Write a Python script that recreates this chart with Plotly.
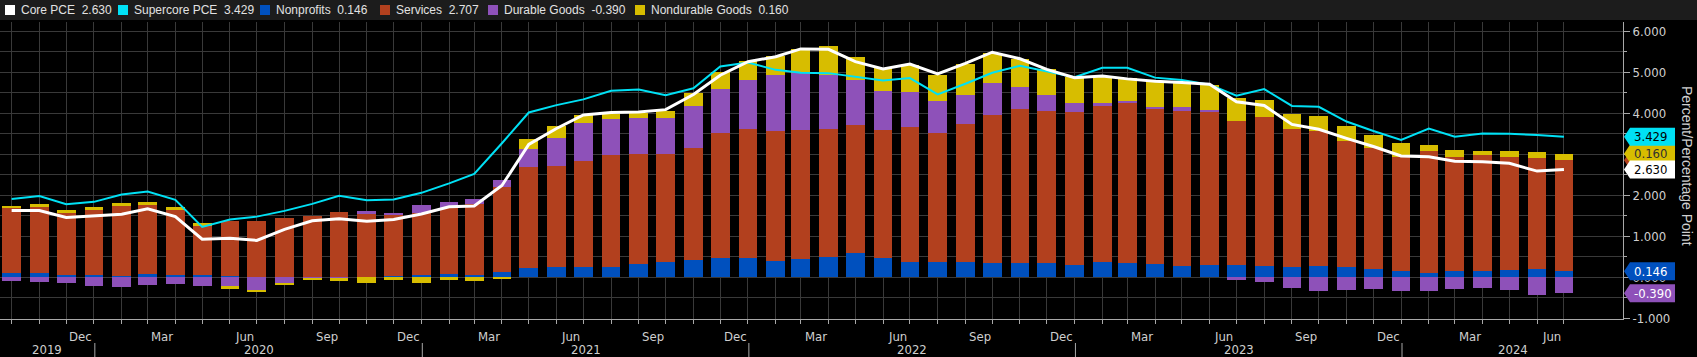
import pandas as pd
import plotly.graph_objects as go

# ---------------- data ----------------
dates = pd.date_range("2019-09-30", periods=58, freq=pd.offsets.MonthEnd())

nonprofits = [0.10, 0.10, 0.05, 0.065, 0.04, 0.09, 0.065, 0.065, 0.04, 0.0,
              0.01, 0.01, 0.01, 0.0, 0.02, 0.065, 0.08, 0.05, 0.13, 0.23,
              0.244, 0.26, 0.26, 0.325, 0.374, 0.423, 0.463, 0.463, 0.40, 0.44,
              0.50, 0.593, 0.463, 0.382, 0.382, 0.382, 0.35, 0.35, 0.35, 0.30,
              0.382, 0.35, 0.333, 0.268, 0.29, 0.30, 0.285, 0.244, 0.285, 0.244,
              0.203, 0.154, 0.106, 0.154, 0.154, 0.187, 0.203, 0.146]
services = [1.61, 1.62, 1.53, 1.58, 1.71, 1.67, 1.58, 1.195, 1.34, 1.38,
            1.437, 1.49, 1.575, 1.545, 1.49, 1.50, 1.60, 1.75, 2.07, 2.46,
            2.47, 2.58, 2.72, 2.69, 2.64, 2.73, 3.05, 3.16, 3.17, 3.145,
            3.12, 3.12, 3.12, 3.285, 3.14, 3.36, 3.61, 3.756, 3.707, 3.74,
            3.80, 3.90, 3.76, 3.79, 3.73, 3.52, 3.62, 3.38, 3.285, 3.08,
            2.96, 2.79, 2.975, 2.78, 2.82, 2.75, 2.71, 2.707]
durable = [-0.09, -0.105, -0.146, -0.21, -0.23, -0.19, -0.16, -0.21, -0.21, -0.31,
           -0.13, -0.025, -0.02, 0.065, 0.057, 0.187, 0.155, 0.114, 0.17, 0.44,
           0.69, 0.927, 0.87, 0.878, 0.878, 1.024, 1.08, 1.19, 1.366, 1.39,
           1.325, 1.10, 0.96, 0.86, 0.78, 0.707, 0.78, 0.545, 0.39, 0.22,
           0.08, 0.05, 0.065, 0.098, 0.065, -0.057, -0.12, -0.25, -0.325, -0.30,
           -0.276, -0.325, -0.325, -0.276, -0.25, -0.30, -0.43, -0.39]
nondurable = [0.04, 0.057, 0.065, 0.065, 0.065, 0.073, 0.065, 0.057, -0.065, -0.04,
              -0.065, -0.04, -0.06, -0.13, -0.057, -0.13, -0.065, -0.08, -0.03, 0.236,
              0.285, 0.195, 0.138, 0.106, 0.17, 0.325, 0.41, 0.47, 0.463, 0.593,
              0.69, 0.553, 0.553, 0.65, 0.634, 0.756, 0.724, 0.675, 0.634, 0.618,
              0.634, 0.553, 0.618, 0.618, 0.60, 0.545, 0.423, 0.366, 0.366, 0.366,
              0.31, 0.333, 0.138, 0.163, 0.106, 0.146, 0.146, 0.160]
core_pce = [1.63, 1.63, 1.46, 1.50, 1.54, 1.67, 1.48, 0.93, 0.95, 0.90,
            1.17, 1.38, 1.43, 1.37, 1.41, 1.545, 1.72, 1.74, 2.24, 3.24,
            3.63, 3.96, 4.02, 4.03, 4.09, 4.46, 4.93, 5.26, 5.38, 5.57,
            5.56, 5.26, 5.08, 5.20, 4.96, 5.22, 5.49, 5.33, 5.07, 4.87,
            4.91, 4.84, 4.78, 4.75, 4.71, 4.28, 4.19, 3.73, 3.61, 3.39,
            3.19, 2.96, 2.94, 2.83, 2.82, 2.78, 2.59, 2.630]
supercore_pce = [1.91, 1.98, 1.78, 1.84, 2.02, 2.09, 1.89, 1.23, 1.41, 1.48,
                 1.62, 1.79, 1.99, 1.88, 1.90, 2.06, 2.29, 2.52, 3.27, 4.02,
                 4.20, 4.34, 4.55, 4.58, 4.44, 4.61, 5.14, 5.24, 5.06, 4.99,
                 4.98, 4.89, 4.80, 4.86, 4.46, 4.72, 4.99, 5.16, 5.02, 4.88,
                 5.11, 5.11, 4.87, 4.81, 4.70, 4.43, 4.59, 4.18, 4.16, 3.80,
                 3.57, 3.35, 3.63, 3.43, 3.51, 3.50, 3.47, 3.429]

y_tick_values = [-1, 0, 1, 2, 3, 4, 5, 6]
month_names = {12: "Dec", 3: "Mar", 6: "Jun", 9: "Sep"}
axis_title = "Percent/Percentage Point"

# ---------------- style ----------------
C_CORE = "#ffffff"
C_SUPER = "#00e1f5"
C_NONPROF = "#0050be"
C_SERV = "#b2401e"
C_DUR = "#8e51b9"
C_NONDUR = "#d7bd00"
GRID = "#393939"
AXIS = "#a8a8a8"
TXT = "#cfcfcf"
NARROW = "Liberation Sans Narrow, Arial Narrow, DejaVu Sans Condensed, Roboto, sans-serif"
SANS = "Liberation Sans, Arial, sans-serif"

W, H = 1697, 357
L, R, T, B = 0, 74, 22, 38
PW, PH = W - L - R, H - T - B


def px(p):
    return (p - L) / PW


def py(p):
    return (H - B - p) / PH


x_range = [pd.Timestamp("2019-09-17"), pd.Timestamp("2024-09-04")]
y_range = [-1.017, 6.227]
units_per_px = (y_range[1] - y_range[0]) / PH

fig = go.Figure()
bar_width_ms = 20.9 * 86400000
for name, vals, color in [("Nonprofits", nonprofits, C_NONPROF),
                          ("Services", services, C_SERV),
                          ("Durable Goods", durable, C_DUR),
                          ("Nondurable Goods", nondurable, C_NONDUR)]:
    fig.add_trace(go.Bar(x=dates, y=vals, name=name, width=bar_width_ms,
                         marker=dict(color=color, line=dict(width=0))))
fig.add_trace(go.Scatter(x=dates, y=supercore_pce, mode="lines", name="Supercore PCE",
                         line=dict(color=C_SUPER, width=2)))
fig.add_trace(go.Scatter(x=dates, y=core_pce, mode="lines", name="Core PCE",
                         line=dict(color=C_CORE, width=3)))

shapes = []
annotations = []

# legend strip
shapes.append(dict(type="rect", xref="paper", yref="paper", x0=px(0), x1=px(W),
                   y0=py(20), y1=py(0), fillcolor="#1c1c1c", line=dict(width=0), layer="above"))
legend_items = [("Core PCE", core_pce[-1], C_CORE, 5),
                ("Supercore PCE", supercore_pce[-1], C_SUPER, 118),
                ("Nonprofits", nonprofits[-1], C_NONPROF, 260),
                ("Services", services[-1], C_SERV, 380),
                ("Durable Goods", durable[-1], C_DUR, 488),
                ("Nondurable Goods", nondurable[-1], C_NONDUR, 635)]
for name, val, color, x0 in legend_items:
    shapes.append(dict(type="rect", xref="paper", yref="paper", x0=px(x0), x1=px(x0 + 10),
                       y0=py(15), y1=py(5), fillcolor=color, line=dict(width=0), layer="above"))
    annotations.append(dict(xref="paper", yref="paper", x=px(x0 + 14), y=py(10),
                            xanchor="left", yanchor="middle", showarrow=False,
                            text=f"{name}  {val:.3f}", font=dict(family=SANS, size=12, color="#e2e2e2")))

# month labels and year labels
m = pd.Timestamp("2019-09-01")
while m < x_range[1]:
    nxt = m + pd.offsets.MonthBegin(1)
    center = m + (nxt - m) / 2
    if m.month in month_names and x_range[0] < center < x_range[1]:
        annotations.append(dict(xref="x", yref="paper", x=center, y=py(336), showarrow=False,
                                xanchor="center", yanchor="middle", text=month_names[m.month],
                                font=dict(family=NARROW, size=13, color=TXT)))
    m = nxt
for yr in range(2019, 2025):
    s = max(pd.Timestamp(f"{yr}-01-01"), x_range[0])
    e = min(pd.Timestamp(f"{yr + 1}-01-01"), x_range[1])
    annotations.append(dict(xref="x", yref="paper", x=s + (e - s) / 2, y=py(349), showarrow=False,
                            xanchor="center", yanchor="middle", text=str(yr),
                            font=dict(family=NARROW, size=13, color=TXT)))
    if yr > 2019:
        shapes.append(dict(type="line", xref="x", yref="paper", x0=f"{yr}-01-01", x1=f"{yr}-01-01",
                           y0=py(343), y1=py(357), line=dict(color=AXIS, width=1)))

# right-side value tags
half = 9 * units_per_px
tag_tip, tag_l, tag_r = px(1624), px(1630), px(1675)
stack_top = nonprofits[-1] + services[-1] + max(durable[-1], 0) + nondurable[-1]
tags = [(nonprofits[-1] + services[-1], None, C_SERV, "#ffffff"),
        (stack_top, nondurable[-1], C_NONDUR, "#303030"),
        (supercore_pce[-1], supercore_pce[-1], C_SUPER, "#000000"),
        (core_pce[-1], core_pce[-1], C_CORE, "#000000"),
        (nonprofits[-1], nonprofits[-1], C_NONPROF, "#ffffff"),
        (min(durable[-1], 0), durable[-1], C_DUR, "#ffffff")]
for pos, val, bg, fg in tags:
    path = (f"M {tag_tip},{pos} L {tag_l},{pos + half} L {tag_r},{pos + half} "
            f"L {tag_r},{pos - half} L {tag_l},{pos - half} Z")
    shapes.append(dict(type="path", xref="paper", yref="y", path=path, fillcolor=bg,
                       line=dict(width=0), layer="above"))
    if val is not None:
        annotations.append(dict(xref="paper", yref="y", x=px(1632), y=pos, showarrow=False,
                                xanchor="left", yanchor="middle", text=f"{val:.3f}",
                                font=dict(family=NARROW, size=13, color=fg)))

# axis title
annotations.append(dict(xref="paper", yref="paper", x=px(1687), y=py(166), showarrow=False,
                        xanchor="center", yanchor="middle", textangle=90, text=axis_title,
                        font=dict(family=SANS, size=14, color=TXT)))

fig.update_layout(
    width=W, height=H, margin=dict(l=L, r=R, t=T, b=B),
    paper_bgcolor="#000000", plot_bgcolor="#000000",
    barmode="relative", bargap=0, showlegend=False,
    shapes=shapes, annotations=annotations,
    xaxis=dict(type="date", range=x_range, tickvals=list(dates), ticktext=[""] * len(dates),
               showgrid=True, gridcolor=GRID, gridwidth=1, ticks="outside", ticklen=4,
               tickcolor=AXIS, showline=True, linecolor=AXIS, linewidth=1, zeroline=False),
    yaxis=dict(side="right", range=y_range, tickvals=y_tick_values,
               ticktext=[f"{v:.3f}" for v in y_tick_values], showgrid=True, gridcolor=GRID,
               gridwidth=1, zeroline=False, showline=True, linecolor=AXIS, linewidth=1,
               ticks="outside", ticklen=6, tickcolor=AXIS,
               tickfont=dict(family=NARROW, size=13, color=TXT),
               minor=dict(dtick=0.5, tick0=0, showgrid=True, gridcolor=GRID, gridwidth=1,
                          ticks="outside", ticklen=3, tickcolor=AXIS)),
)

fig.write_html("out.html", config={"displayModeBar": False},
               post_script="document.body.style.margin='0';document.body.style.padding='0';"
                           "document.body.style.background='#000';")
